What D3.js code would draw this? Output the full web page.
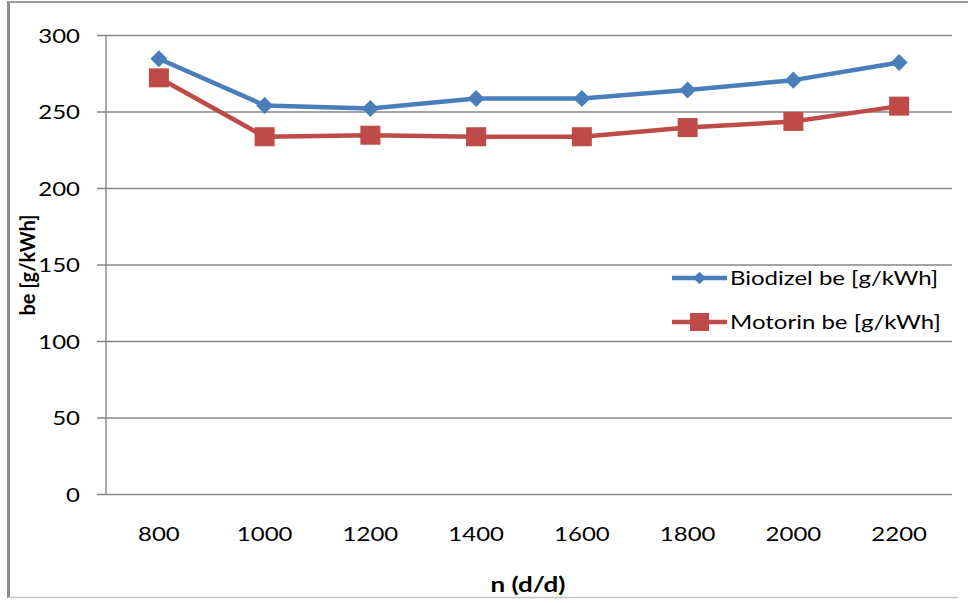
<!DOCTYPE html>
<html><head><meta charset="utf-8">
<script src="https://cdn.jsdelivr.net/npm/d3@7"></script>
<style>
html,body{margin:0;padding:0;background:#fff;}
svg{display:block;}
text{font-family:Lato,"Open Sans",sans-serif;fill:#000;}
</style></head>
<body>
<svg id="chart" width="968" height="603"></svg>
<script>
const categories = ["800","1000","1200","1400","1600","1800","2000","2200"];
const biodizel = [284.5, 254, 252, 258.5, 258.5, 264, 270.5, 282];
const motorin = [272, 233.5, 234.5, 233.5, 233.5, 239.5, 243.5, 253.5];
const yTicks = [0, 50, 100, 150, 200, 250, 300];
const seriesNames = ["Biodizel be [g/kWh]", "Motorin be [g/kWh]"];
const xTitle = "n (d/d)";
const yTitle = "be [g/kWh]";

const svg = d3.select("#chart");
const colors = ["#4a7ebb", "#be4b48"];
const sx = 1.2; // horizontal stretch of text seen in the reference

// outer frame
svg.append("line").attr("x1",8.5).attr("x2",8.5).attr("y1",1).attr("y2",598)
  .attr("stroke","#8a8a8a").attr("stroke-width",3);
svg.append("line").attr("x1",8).attr("x2",968).attr("y1",2).attr("y2",2)
  .attr("stroke","#9a9a9a").attr("stroke-width",2);
svg.append("line").attr("x1",8).attr("x2",958).attr("y1",597.5).attr("y2",597.5)
  .attr("stroke","#c4c4c4").attr("stroke-width",1.5);

const x = d3.scaleBand().domain(categories).range([106, 952]).padding(0);
const y = d3.scaleLinear().domain([0, 300]).range([494, 35]);
const cx = c => x(c) + x.bandwidth()/2;

// gridlines + y axis
const yAxis = d3.axisLeft(y).tickValues(yTicks).tickSize(-(952-106)).tickPadding(17).tickSizeOuter(0);
const gy = svg.append("g").attr("transform","translate(106,0)").call(yAxis);
gy.select(".domain").remove();
gy.selectAll(".tick line").attr("stroke","#868686").attr("stroke-width",1.4)
  .attr("x1",-9);
gy.selectAll(".tick text").attr("font-size",20).attr("font-family","Lato").attr("fill","#000")
  .attr("x",0).attr("dy","0.35em").attr("transform",`translate(-26,0) scale(${sx},1)`);
// vertical axis line
svg.append("line").attr("x1",106).attr("x2",106).attr("y1",y(300)).attr("y2",y(0))
  .attr("stroke","#868686").attr("stroke-width",1.4);

// x axis labels
const xAxis = d3.axisBottom(x).tickSize(0).tickPadding(0);
const gx = svg.append("g").attr("transform","translate(0,494)").call(xAxis);
gx.select(".domain").remove();
gx.selectAll(".tick text").attr("font-size",20).attr("font-family","Lato").attr("fill","#000")
  .attr("y",0).attr("dy","0").attr("transform",`translate(0,47) scale(${sx},1)`);

// titles
svg.append("text").attr("transform",`translate(528,592) scale(1.3,1)`).attr("text-anchor","middle")
  .attr("font-size",20).attr("font-weight","bold").text(xTitle);
svg.append("text").attr("transform","translate(35,265) rotate(-90)").attr("text-anchor","middle")
  .attr("font-size",20).attr("font-weight","bold").text(yTitle);

// series
const line = d3.line().x((d,i)=>cx(categories[i])).y(d=>y(d));
[biodizel, motorin].forEach((vals, si) => {
  svg.append("path").datum(vals).attr("d", line).attr("fill","none")
    .attr("stroke", colors[si]).attr("stroke-width", 4.5).attr("stroke-linejoin","round");
});
// diamonds
svg.selectAll(".dia").data(biodizel).enter().append("path")
  .attr("d", d3.symbol().type(d3.symbolSquare).size(145))
  .attr("transform",(d,i)=>`translate(${cx(categories[i])},${y(d)}) rotate(45)`)
  .attr("fill", colors[0]);
svg.selectAll(".sq").data(motorin).enter().append("rect")
  .attr("x",(d,i)=>cx(categories[i])-10).attr("y",d=>y(d)-9.5)
  .attr("width",20).attr("height",19).attr("fill",colors[1]);

// legend
const leg = svg.append("g");
seriesNames.forEach((name, i) => {
  const ly = 278 + i*44;
  leg.append("line").attr("x1",672).attr("x2",727).attr("y1",ly).attr("y2",ly)
    .attr("stroke",colors[i]).attr("stroke-width",4.5);
  if (i === 0) {
    leg.append("path").attr("d", d3.symbol().type(d3.symbolSquare).size(80)())
      .attr("transform",`translate(699.5,${ly}) rotate(45)`).attr("fill",colors[0]);
  } else {
    leg.append("rect").attr("x",690).attr("y",ly-9).attr("width",19).attr("height",18).attr("fill",colors[1]);
  }
  leg.append("text").attr("transform",`translate(730,${ly}) scale(${sx},1)`).attr("dy","0.35em")
    .attr("font-size",20).text(name);
});
</script>
</body></html>
